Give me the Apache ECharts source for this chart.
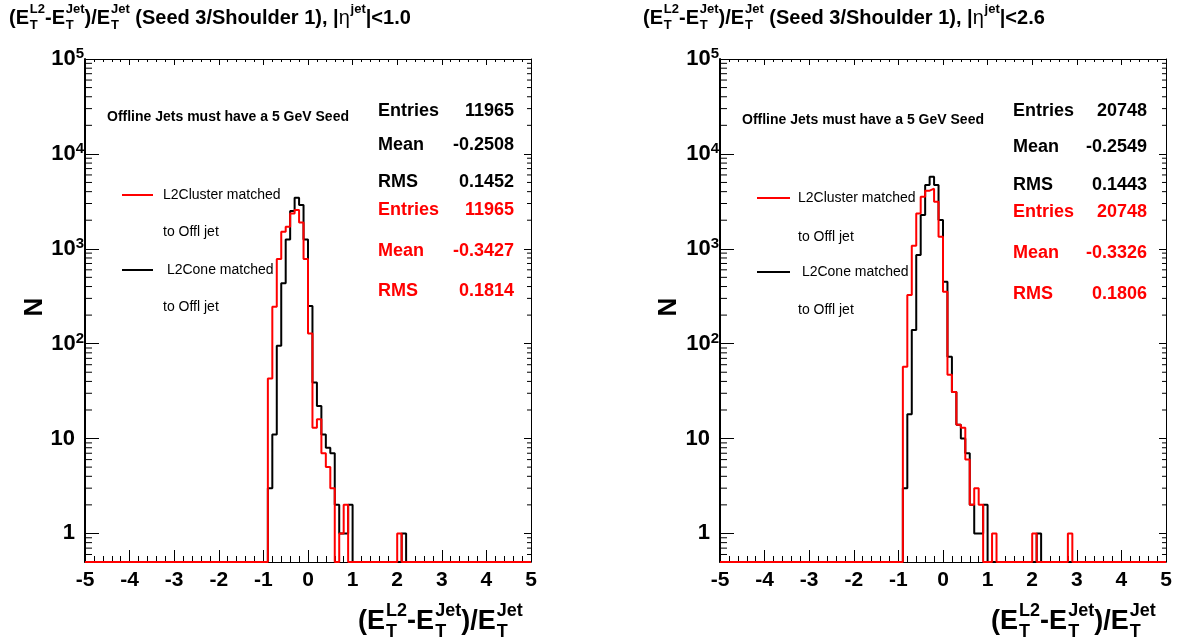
<!DOCTYPE html>
<html><head><meta charset="utf-8">
<script src="https://cdn.jsdelivr.net/npm/echarts@6/dist/echarts.min.js"></script>
<style>html,body{margin:0;padding:0;background:#fff}#c{width:1181px;height:644px}</style>
</head><body><div id="c"></div>
<script>
// ---------------- data ----------------
const X_MIN = -5, X_MAX = 5, BIN = 0.1;
const Y_MIN = 0.5, Y_MAX = 100000;
const xTickValues = [-5, -4, -3, -2, -1, 0, 1, 2, 3, 4, 5];
const yTickValues = [1, 10, 100, 1000, 10000, 100000];

// |eta|<1.0 panel : low edges of filled bins and their counts
const leftRedLow   = [-0.9,-0.8,-0.7,-0.6,-0.5,-0.4,-0.3,-0.2,-0.1,0.0,0.1,0.2,0.3,0.4,0.5,0.7,0.8,2.0];
const leftRedN     = [43,245,778,1510,1706,2360,2558,1897,778,128,13,16,7,5,3,1,2,1];
const leftBlackLow = [-0.9,-0.8,-0.7,-0.6,-0.5,-0.4,-0.3,-0.2,-0.1,0.0,0.1,0.2,0.3,0.4,0.5,0.6,0.7,0.8,0.9,2.1];
const leftBlackN   = [3,11,95,432,1250,2500,3450,2900,1250,249,39,22,11,8,7,2,1,1,2,1];

// |eta|<2.6 panel
const rightRedLow   = [-0.9,-0.8,-0.7,-0.6,-0.5,-0.4,-0.3,-0.2,-0.1,0.0,0.1,0.2,0.3,0.4,0.5,0.6,0.7,0.8,1.1,2.0,2.8];
const rightRedN     = [57,325,1075,2360,3530,4100,4300,3130,1339,352,47,31,14,13,6,2,3,2,1,1,1];
const rightBlackLow = [-0.9,-0.8,-0.7,-0.6,-0.5,-0.4,-0.3,-0.2,-0.1,0.0,0.1,0.2,0.3,0.4,0.5,0.6,0.7,0.8,0.9,2.1];
const rightBlackN   = [3,18,139,859,2265,4690,5740,4690,2005,449,73,31,14,10,7,2,1,1,2,1];

const statNames = ['Entries', 'Mean', 'RMS'];
const leftBlackStats  = ['11965', '-0.2508', '0.1452'];
const leftRedStats    = ['11965', '-0.3427', '0.1814'];
const rightBlackStats = ['20748', '-0.2549', '0.1443'];
const rightRedStats   = ['20748', '-0.3326', '0.1806'];
const noteText = 'Offline Jets must have a 5 GeV Seed';
const legendTexts = ['L2Cluster matched', 'to Offl jet', ' L2Cone matched', 'to Offl jet'];
const etaCuts = ['1.0', '2.6'];
const yTitle = 'N';

// ---------------- helpers ----------------
const FAM = '"Liberation Sans", Arial, Helvetica, sans-serif';
const RED = '#ff0000', BLACK = '#000000';

function fillBins(lows, counts) {
  const nb = Math.round((X_MAX - X_MIN) / BIN);
  const arr = new Array(nb).fill(0);
  lows.forEach((l, i) => { arr[Math.round((l - X_MIN) / BIN)] = counts[i]; });
  const pts = [];
  for (let i = 0; i < nb; i++) pts.push([+(X_MIN + i * BIN).toFixed(2), arr[i] > 0 ? arr[i] : Y_MIN]);
  pts.push([X_MAX, arr[nb - 1] > 0 ? arr[nb - 1] : Y_MIN]);
  return pts;
}

const mctx = document.createElement('canvas').getContext('2d');
function tw(s, font) { mctx.font = font; return mctx.measureText(s).width; }
function txt(text, x, y, font, color, align, extra) {
  return Object.assign({ type: 'text', x: x, y: y, silent: true,
    style: { text: text, font: font, fill: color || BLACK, align: align || 'left', verticalAlign: 'middle',
             textAlign: align || 'left', textVerticalAlign: 'middle' } }, extra || {});
}
// tokens: strings or {b, sub, sup, w}
function mathText(tokens, x0, yMid, size, color) {
  const els = []; let x = x0;
  const ss = Math.round(size * 0.66);
  tokens.forEach(t => {
    if (typeof t === 'string') {
      const f = `bold ${size}px ${FAM}`;
      els.push(txt(t, x, yMid, f, color)); x += tw(t, f);
    } else {
      const w = t.w || 'bold';
      const f = `${w} ${size}px ${FAM}`;
      const fs = `bold ${ss}px ${FAM}`;
      els.push(txt(t.b, x, yMid, f, color)); x += tw(t.b, f) + size * 0.04;
      let ww = 0;
      if (t.sub) { els.push(txt(t.sub, x, yMid + size * 0.36, fs, color)); ww = Math.max(ww, tw(t.sub, fs)); }
      if (t.sup) { els.push(txt(t.sup, x, yMid - size * 0.42, fs, color)); ww = Math.max(ww, tw(t.sup, fs)); }
      x += ww;
    }
  });
  return els;
}
function ratioTokens() {
  return ['(', { b: 'E', sub: 'T', sup: 'L2' }, '-', { b: 'E', sub: 'T', sup: 'Jet' }, ')/', { b: 'E', sub: 'T', sup: 'Jet' }];
}

// minor log ticks values
const minorLog = [];
for (let e = -1; e <= 4; e++) for (let k = 2; k <= 9; k++) { const v = k * Math.pow(10, e); if (v >= Y_MIN && v <= Y_MAX) minorLog.push(v); }

// ---------------- layout of the two pads ----------------
const pads = [
  { gl: 85, gr: 531, titleX: 9, eta: etaCuts[0], black: [leftBlackLow, leftBlackN], red: [leftRedLow, leftRedN],
    bs: leftBlackStats, rs: leftRedStats, sx: 378, sr: 514, sy: [111, 145, 182, 210, 251, 291],
    nx: 107, ny: 117, lx: 122, lx2: 153, ltx: 163, ly: [195, 232, 270, 307], xtX: 358, nX: 35 },
  { gl: 720, gr: 1166, titleX: 643, eta: etaCuts[1], black: [rightBlackLow, rightBlackN], red: [rightRedLow, rightRedN],
    bs: rightBlackStats, rs: rightRedStats, sx: 1013, sr: 1147, sy: [111, 147, 185, 212, 253, 294],
    nx: 742, ny: 120, lx: 757, lx2: 790, ltx: 798, ly: [198, 237, 272, 310], xtX: 991, nX: 669 }
];
const GT = 59, GB = 562, CW = 1181, CH = 644;

const grid = [], xAxis = [], yAxis = [], series = [], graphic = [];
pads.forEach((p, i) => {
  grid.push({ left: p.gl, top: GT, width: p.gr - p.gl, height: GB - GT, containLabel: false });
  const xBase = { type: 'value', gridIndex: i, min: X_MIN, max: X_MAX, interval: 1, splitLine: { show: false },
    axisLine: { show: true, onZero: false, lineStyle: { color: BLACK, width: 1 } },
    axisTick: { show: true, inside: true, length: 12, lineStyle: { color: BLACK } },
    minorTick: { show: true, splitNumber: 5, length: 6, lineStyle: { color: BLACK } } };
  xAxis.push(Object.assign({}, xBase, { position: 'bottom',
    axisLabel: { show: true, margin: 8, color: BLACK, fontSize: 21, fontWeight: 'bold', fontFamily: FAM,
      formatter: v => xTickValues.indexOf(Math.round(v)) >= 0 ? String(Math.round(v)) : '' } }));
  xAxis.push(Object.assign({}, xBase, { position: 'top', axisLabel: { show: false },
    axisTick: { show: true, inside: true, length: 6, lineStyle: { color: BLACK } },
    minorTick: { show: true, splitNumber: 5, length: 3, lineStyle: { color: BLACK } } }));
  const yBase = { type: 'log', logBase: 10, gridIndex: i, min: Y_MIN, max: Y_MAX, splitLine: { show: false },
    minorTick: { show: false } };
  yAxis.push(Object.assign({}, yBase, { position: 'left',
    axisLine: { show: true, onZero: false, lineStyle: { color: BLACK, width: 2 } },
    axisTick: { show: true, inside: true, length: 14, lineStyle: { color: BLACK } },
    axisLabel: { show: true, margin: 1, color: BLACK, fontFamily: FAM,
      formatter: v => {
        const l = Math.log10(v), e = Math.round(l);
        if (Math.abs(l - e) > 0.01 || yTickValues.indexOf(Math.pow(10, e)) < 0) return '';
        if (e === 0) return '{b|1}{sp|}';
        if (e === 1) return '{b|10}{sp|}';
        return '{b|10}{s|' + e + '}';
      },
      rich: { b: { fontSize: 22, fontWeight: 'bold', fontFamily: FAM, color: BLACK },
              s: { fontSize: 15, fontWeight: 'bold', fontFamily: FAM, color: BLACK, verticalAlign: 'top', padding: [0, 0, 10, 0] },
              sp: { width: 9 } } } }));
  yAxis.push(Object.assign({}, yBase, { position: 'right',
    axisLine: { show: true, onZero: false, lineStyle: { color: BLACK, width: 1 } },
    axisTick: { show: true, inside: true, length: 7, lineStyle: { color: BLACK } },
    axisLabel: { show: false } }));

  // minor log ticks on both vertical frame sides
  series.push({ type: 'custom', xAxisIndex: 2 * i, yAxisIndex: 2 * i, silent: true, clip: false, z: 1,
    data: minorLog.map(v => [X_MIN, v]),
    renderItem: (params, api) => {
      const v = api.value(1);
      const pl = api.coord([X_MIN, v]), pr = api.coord([X_MAX, v]);
      return { type: 'group', children: [
        { type: 'line', shape: { x1: pl[0], y1: pl[1], x2: pl[0] + 7, y2: pl[1] }, style: { stroke: BLACK, lineWidth: 1 } },
        { type: 'line', shape: { x1: pr[0], y1: pr[1], x2: pr[0] - 4, y2: pr[1] }, style: { stroke: BLACK, lineWidth: 1 } } ] };
    } });
  const lineS = (pair, color, z) => ({ type: 'line', xAxisIndex: 2 * i, yAxisIndex: 2 * i, data: fillBins(pair[0], pair[1]),
    step: 'end', showSymbol: false, symbol: 'none', clip: false, z: z, animation: false,
    lineStyle: { color: color, width: 2 }, itemStyle: { color: color } });
  series.push(lineS(p.black, BLACK, 3));
  series.push(lineS(p.red, RED, 4));

  // title
  const tTok = ratioTokens().concat([' (Seed 3/Shoulder 1), |', { b: 'η', sup: 'jet', w: 'normal' }, '|<' + p.eta]);
  mathText(tTok, p.titleX, 18, 20, BLACK).forEach(e => graphic.push(e));
  // x axis title
  mathText(ratioTokens(), p.xtX, 622, 27, BLACK).forEach(e => graphic.push(e));
  // y axis title
  graphic.push(txt(yTitle, p.nX, 307, `bold 26px ${FAM}`, BLACK, 'center', { rotation: Math.PI / 2 }));
  // note
  graphic.push(txt(noteText, p.nx, p.ny, `bold 14px ${FAM}`, BLACK));
  // stats
  const sf = `bold 18px ${FAM}`;
  for (let k = 0; k < 3; k++) {
    graphic.push(txt(statNames[k], p.sx, p.sy[k], sf, BLACK));
    graphic.push(txt(p.bs[k], p.sr, p.sy[k], sf, BLACK, 'right'));
    graphic.push(txt(statNames[k], p.sx, p.sy[k + 3], sf, RED));
    graphic.push(txt(p.rs[k], p.sr, p.sy[k + 3], sf, RED, 'right'));
  }
  // legend
  const lf = `14px ${FAM}`;
  graphic.push({ type: 'line', silent: true, shape: { x1: p.lx, y1: p.ly[0], x2: p.lx2, y2: p.ly[0] }, style: { stroke: RED, lineWidth: 2 } });
  graphic.push({ type: 'line', silent: true, shape: { x1: p.lx, y1: p.ly[2], x2: p.lx2, y2: p.ly[2] }, style: { stroke: BLACK, lineWidth: 2 } });
  for (let k = 0; k < 4; k++) graphic.push(txt(legendTexts[k], p.ltx, p.ly[k], lf, BLACK));
});

const chart = echarts.init(document.getElementById('c'), null, { renderer: 'canvas', width: CW, height: CH });
chart.setOption({ animation: false, backgroundColor: '#fff', grid, xAxis, yAxis, series, graphic });
</script></body></html>
